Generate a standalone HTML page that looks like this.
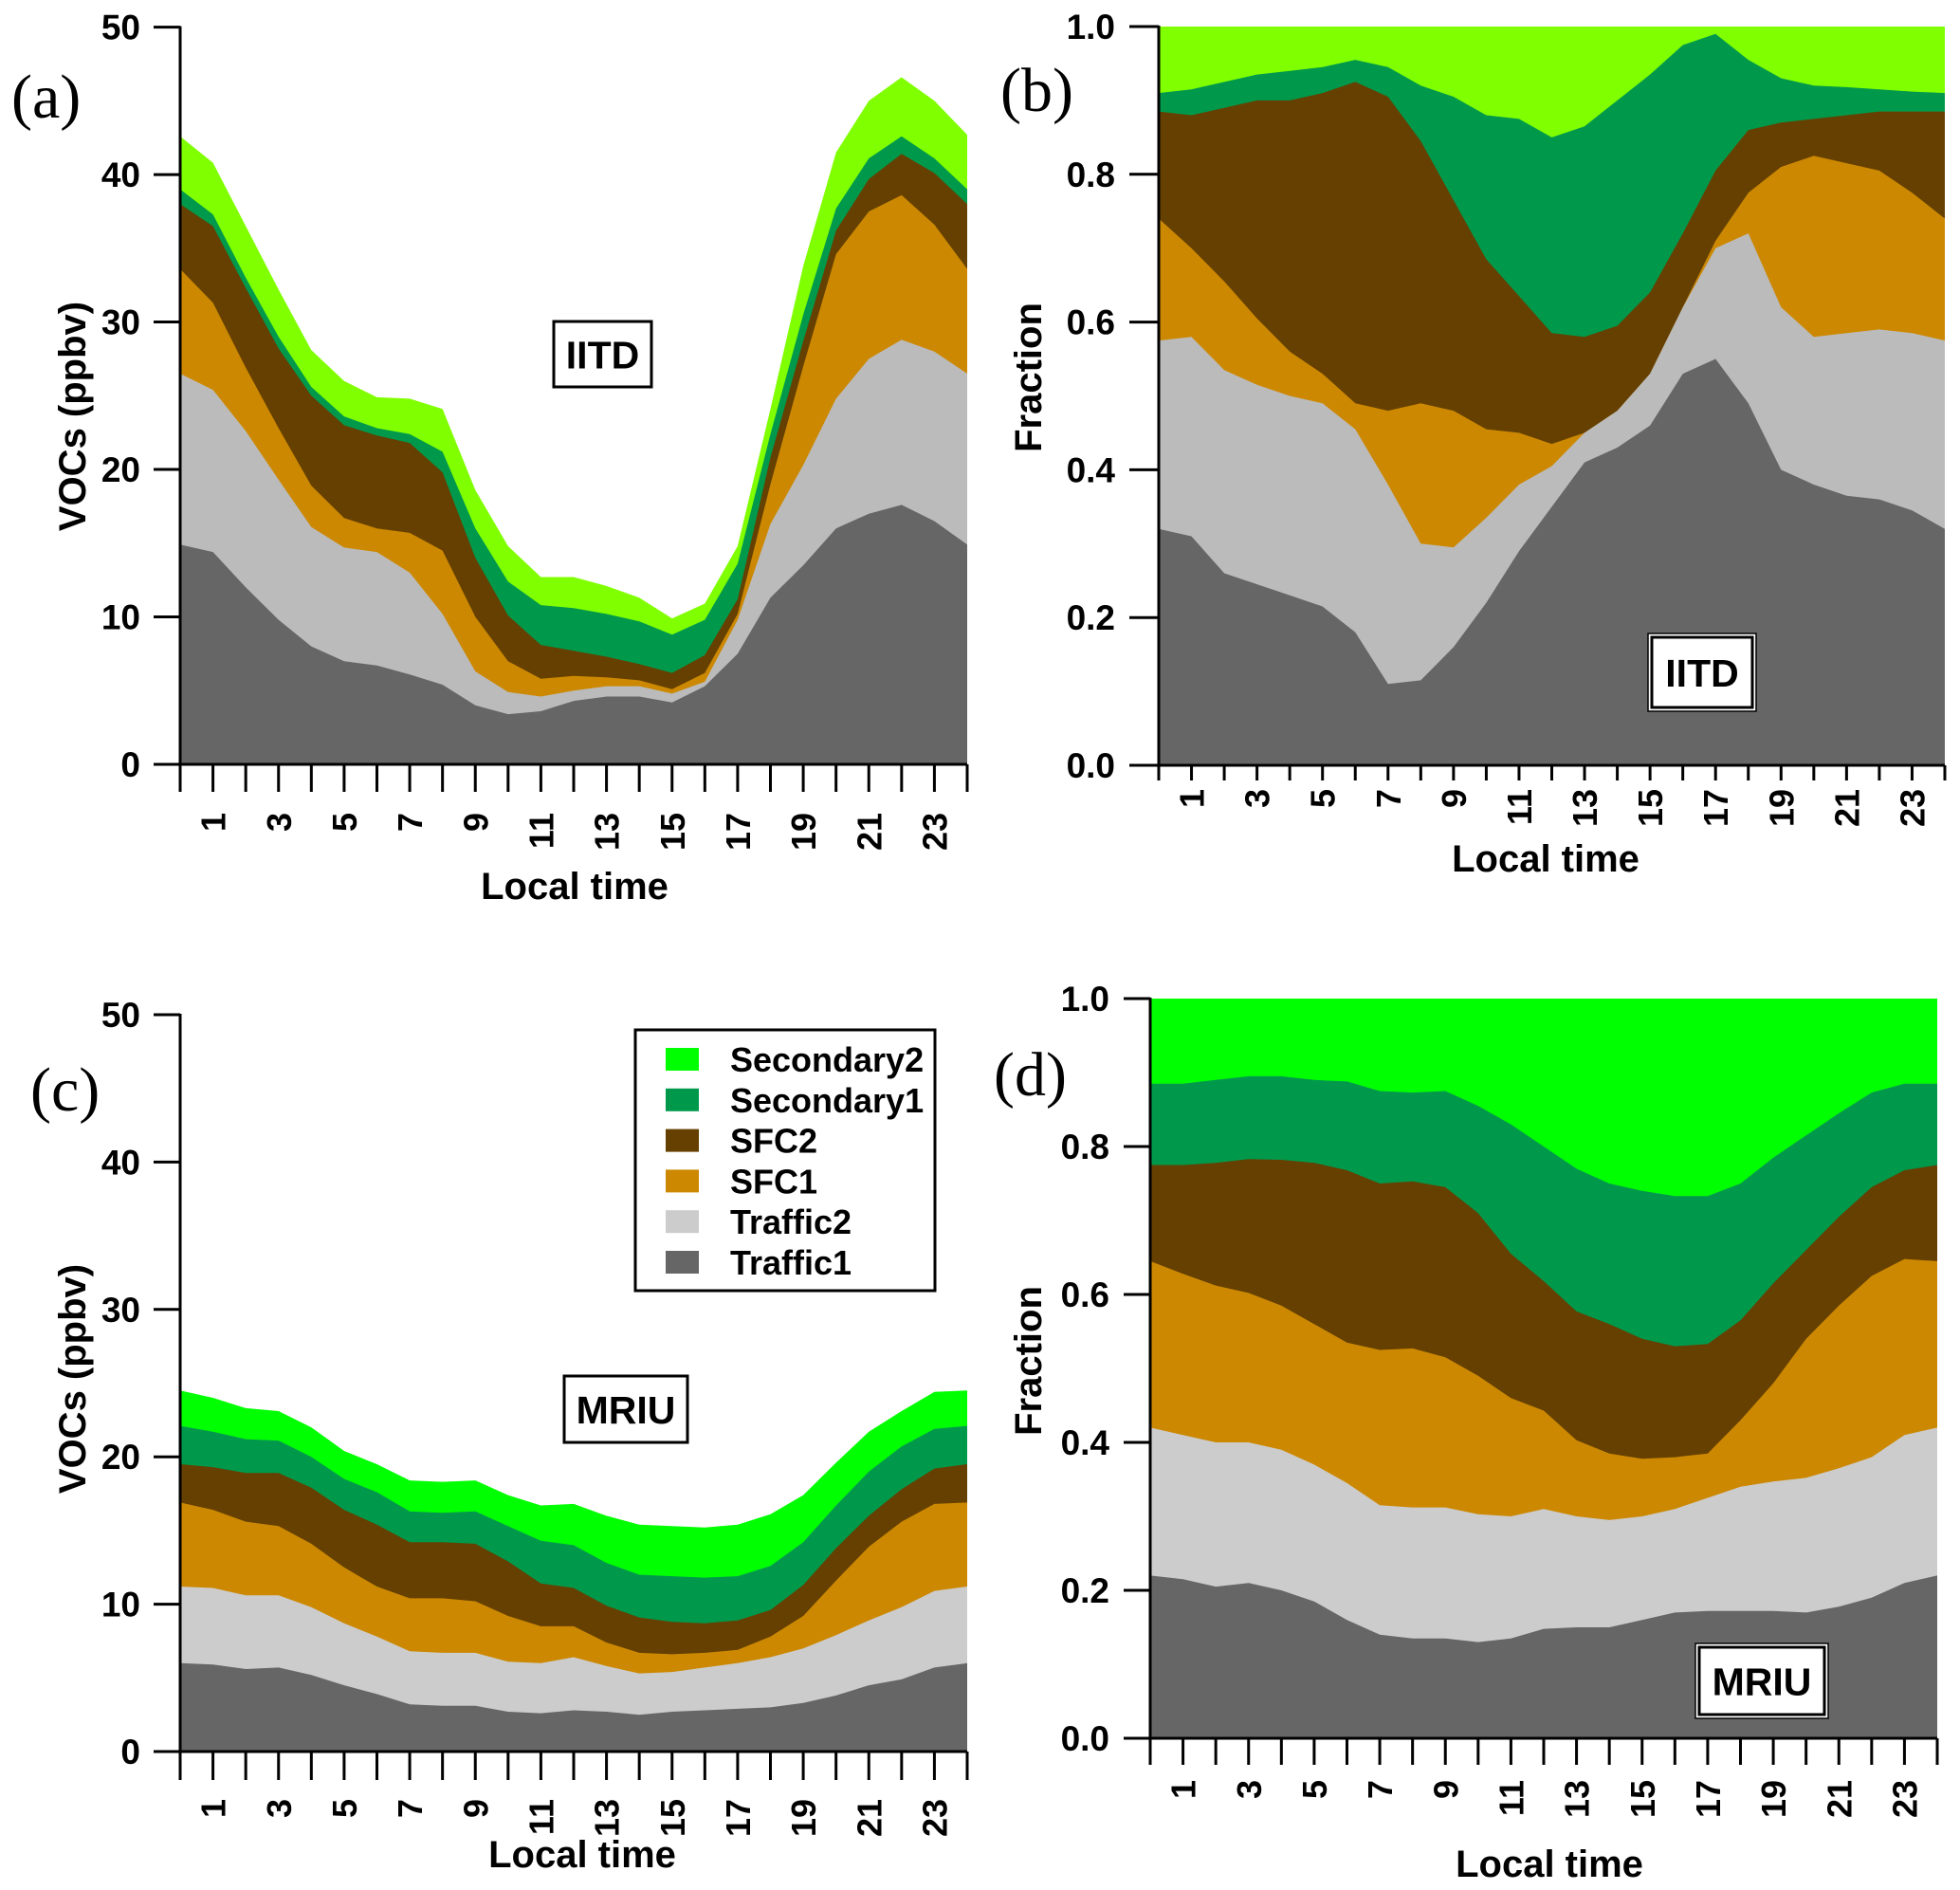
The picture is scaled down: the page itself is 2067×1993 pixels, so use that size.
<!DOCTYPE html>
<html><head><meta charset="utf-8">
<style>
html,body{margin:0;padding:0;background:#fff;}
svg{display:block;}
text{font-family:"Liberation Sans",Arial,sans-serif;font-weight:bold;fill:#000;}
.panel-letter{font-family:"Liberation Serif",serif;font-weight:normal;}
</style></head>
<body>
<svg id="fig" width="2067" height="1993" viewBox="0 0 2067 1993" xmlns="http://www.w3.org/2000/svg"></svg>
<script>
// ---- data ----
const hours = [0,1,2,3,4,5,6,7,8,9,10,11,12,13,14,15,16,17,18,19,20,21,22,23,24];
const seriesNames = ["Traffic1","Traffic2","SFC1","SFC2","Secondary1","Secondary2"];
const xTickLabels = ["1","3","5","7","9","11","13","15","17","19","21","23"];
const concTicks = [0,10,20,30,40,50];
const fracTicks = [0,0.2,0.4,0.6,0.8,1.0];

// Panel (a) IITD concentrations: cumulative top of each layer (ppbv)
const aTraffic1 = [14.9,14.4,12,9.8,8,7,6.7,6.1,5.4,4,3.4,3.6,4.3,4.6,4.6,4.2,5.3,7.5,11.3,13.5,16,17,17.6,16.5,14.9];
const aTraffic2 = [26.5,25.4,22.6,19.3,16.1,14.7,14.4,13,10.2,6.3,4.9,4.6,5,5.3,5.3,4.8,5.6,9.8,16.3,20.3,24.8,27.5,28.8,28,26.5];
const aSFC1 = [33.6,31.3,26.9,22.8,18.9,16.7,16,15.7,14.5,10,7,5.8,6,5.9,5.7,5.1,6.2,10.2,19,27,34.6,37.5,38.6,36.6,33.6];
const aSFC2 = [38,36.5,32.3,28.2,25,23,22.3,21.8,19.8,14,10.1,8.1,7.7,7.3,6.8,6.2,7.4,11.2,20.8,28.7,36.2,39.7,41.4,40.1,38];
const aSec1 = [39,37.3,33,29,25.6,23.6,22.8,22.4,21.2,16,12.4,10.8,10.6,10.2,9.7,8.8,9.8,13.6,22.4,30.5,37.7,41.1,42.6,41.1,39];
const aSec2 = [42.6,40.8,36.5,32.2,28.1,26,24.9,24.8,24.1,18.6,14.8,12.7,12.7,12.1,11.3,9.9,10.9,14.8,24.1,33.8,41.5,45,46.6,45,42.7];

// Panel (b) IITD fractions: cumulative top
const bTraffic1 = [.32,.31,.26,.245,.23,.215,.18,.11,.115,.16,.22,.29,.35,.41,.43,.46,.53,.55,.49,.40,.38,.365,.36,.345,.32];
const bTraffic2 = [.575,.58,.535,.515,.50,.49,.455,.38,.30,.295,.335,.38,.405,.45,.48,.53,.62,.70,.72,.62,.58,.585,.59,.585,.575];
const bSFC1 = [.74,.70,.655,.605,.56,.53,.49,.48,.49,.48,.455,.45,.435,.45,.48,.53,.62,.71,.775,.81,.825,.815,.805,.775,.74];
const bSFC2 = [.885,.88,.89,.90,.90,.91,.925,.905,.845,.765,.685,.635,.585,.58,.595,.64,.72,.805,.86,.87,.875,.88,.885,.885,.885];
const bSec1 = [.91,.915,.925,.935,.94,.945,.955,.945,.92,.905,.88,.875,.85,.865,.90,.935,.975,.99,.955,.93,.92,.918,.915,.912,.91];
const bSec2 = [1,1,1,1,1,1,1,1,1,1,1,1,1,1,1,1,1,1,1,1,1,1,1,1,1];

// Panel (c) MRIU concentrations: cumulative top
const cTraffic1 = [6,5.9,5.6,5.7,5.2,4.5,3.9,3.2,3.1,3.1,2.7,2.6,2.8,2.7,2.5,2.7,2.8,2.9,3,3.3,3.8,4.5,4.9,5.7,6];
const cTraffic2 = [11.2,11.1,10.6,10.6,9.8,8.7,7.8,6.8,6.7,6.7,6.1,6,6.4,5.8,5.3,5.4,5.7,6,6.4,7,7.9,8.9,9.8,10.9,11.2];
const cSFC1 = [16.9,16.4,15.6,15.3,14.1,12.5,11.2,10.4,10.4,10.2,9.2,8.5,8.5,7.4,6.7,6.6,6.7,6.9,7.8,9.2,11.6,13.9,15.6,16.8,16.9];
const cSFC2 = [19.5,19.3,18.9,18.9,17.9,16.4,15.4,14.2,14.2,14.1,12.9,11.4,11.1,9.9,9.1,8.8,8.7,8.9,9.6,11.3,13.8,16,17.8,19.2,19.5];
const cSec1 = [22.1,21.7,21.2,21.1,20,18.5,17.6,16.3,16.2,16.3,15.3,14.3,14,12.8,12,11.9,11.8,11.9,12.6,14.2,16.7,19,20.7,21.9,22.1];
const cSec2 = [24.5,24,23.3,23.1,22,20.4,19.5,18.4,18.3,18.4,17.4,16.7,16.8,16,15.4,15.3,15.2,15.4,16.1,17.4,19.6,21.7,23.1,24.4,24.5];

// Panel (d) MRIU fractions: cumulative top
const dTraffic1 = [.22,.215,.205,.21,.20,.185,.16,.14,.135,.135,.13,.135,.148,.15,.15,.16,.17,.172,.172,.172,.17,.178,.19,.21,.22];
const dTraffic2 = [.42,.41,.40,.40,.39,.37,.345,.315,.312,.312,.303,.30,.31,.30,.295,.30,.31,.325,.34,.347,.352,.365,.38,.41,.42];
const dSFC1 = [.645,.628,.612,.602,.585,.56,.535,.525,.527,.515,.49,.46,.443,.403,.385,.378,.38,.385,.43,.48,.54,.585,.625,.648,.645];
const dSFC2 = [.775,.775,.778,.783,.782,.778,.768,.75,.753,.745,.71,.655,.618,.577,.56,.54,.53,.533,.565,.615,.66,.705,.745,.768,.775];
const dSec1 = [.885,.885,.89,.895,.895,.89,.888,.875,.873,.875,.855,.83,.80,.77,.75,.74,.733,.733,.75,.785,.815,.845,.873,.885,.885];
const dSec2 = [1,1,1,1,1,1,1,1,1,1,1,1,1,1,1,1,1,1,1,1,1,1,1,1,1];

const NS = "http://www.w3.org/2000/svg";
const svg = document.getElementById("fig");
function mk(tag, attrs, parent){
  const e = document.createElementNS(NS, tag);
  for (const k in attrs) e.setAttribute(k, attrs[k]);
  (parent||svg).appendChild(e);
  return e;
}

function drawPanel(p){
  const g = mk("g", {});
  
  
  const xs = h => p.x0 + (p.x1 - p.x0) * h / 24;
  const ys = v => p.y0 - (p.y0 - p.yTop) * v / p.vmax;
  // stacked areas
  for (let s = p.layers.length - 1; s >= 0; s--) {
    const top = p.layers[s];
    let d = "M" + xs(hours[0]) + "," + ys(0);
    for (let i = 0; i < hours.length; i++) d += " L" + xs(hours[i]).toFixed(1) + "," + ys(top[i]).toFixed(1);
    d += " L" + xs(hours[hours.length-1]) + "," + ys(0) + " Z";
    const path = mk("path", {d: d, fill: p.colors[s]}, g);
    
    
  }
  // axes
  const ax = mk("path", {d: "M"+p.x0+","+(p.yTop-1)+" L"+p.x0+","+p.y0+" L"+p.x1+","+p.y0, stroke:"#000","stroke-width":3, fill:"none"}, g);
  
  
  // y ticks
  p.yticks.forEach(v => {
    const y = ys(v);
    const t = mk("line", {x1:p.ytickX, x2:p.x0, y1:y, y2:y, stroke:"#000","stroke-width":3}, g);
    
    
    const lb = mk("text", {x:p.ylabX, y:y+13, "text-anchor":"end","font-size":37}, g);
    lb.textContent = p.fmt(v);
    
    
  });
  // x ticks
  hours.forEach(h => {
    const x = xs(h);
    const t = mk("line", {x1:x, x2:x, y1:p.y0, y2:p.y0+p.tickLen, stroke:"#000","stroke-width":3}, g);
    
    
  });
  xTickLabels.forEach(l => {
    const x = xs(+l);
    const lb = mk("text", {x:0, y:0, "text-anchor":"end","font-size":36, transform:"translate("+(x+13)+","+p.xlabTop+") rotate(-90)"}, g);
    lb.textContent = l;
    
    
  });
  const xt = mk("text", {x:p.xTitleX, y:p.xTitleY, "text-anchor":"middle","font-size":40}, g);
  xt.textContent = "Local time";
  
  
  const yt = mk("text", {x:0, y:0, "text-anchor":"middle","font-size":40, transform:"translate("+(p.yTitleX+14)+","+p.yTitleY+") rotate(-90)"}, g);
  yt.textContent = p.yTitle;
  
  
  const letter = mk("text", {x:p.letterX, y:p.letterY, "font-size":66, "class":"panel-letter"}, g);
  letter.textContent = "(" + p.id + ")";
  
  
  // site box
  const b = p.box;
  if (p.double) {
    const ob = mk("rect", {x:b[0]-4, y:b[1]-4, width:b[2]-b[0]+8, height:b[3]-b[1]+8, fill:"#fff", stroke:"#000","stroke-width":1.5}, g);
    
    
  }
  const rb = mk("rect", {x:b[0], y:b[1], width:b[2]-b[0], height:b[3]-b[1], fill:"#fff", stroke:"#000","stroke-width":3}, g);
  
  
  const st = mk("text", {x:(b[0]+b[2])/2, y:(b[1]+b[3])/2+15, "text-anchor":"middle","font-size":41}, g);
  st.textContent = p.site;
  
  
}

const colAB = ["#666666","#bbbbbb","#cc8800","#654000","#00994c","#80ff00"];
const colCD = ["#666666","#cccccc","#cc8800","#654000","#00994c","#00ff00"];
const fmtInt = v => String(v);
const fmtFrac = v => v.toFixed(1);

drawPanel({id:"a", x0:190, x1:1020, y0:806, yTop:28.6, vmax:50, layers:[aTraffic1,aTraffic2,aSFC1,aSFC2,aSec1,aSec2], colors:colAB,
  yticks:concTicks, fmt:fmtInt, ytickX:162, ylabX:148, tickLen:29, xlabTop:857, xTitleX:606, xTitleY:948,
  yTitle:"VOCs (ppbv)", yTitleX:76, yTitleY:439, letterX:12, letterY:124, box:[584,339,687,408], site:"IITD", double:false});
drawPanel({id:"b", x0:1222, x1:2051, y0:807, yTop:28, vmax:1, layers:[bTraffic1,bTraffic2,bSFC1,bSFC2,bSec1,bSec2], colors:colAB,
  yticks:fracTicks, fmt:fmtFrac, ytickX:1191, ylabX:1176, tickLen:16, xlabTop:832, xTitleX:1630, xTitleY:919,
  yTitle:"Fraction", yTitleX:1084, yTitleY:398, letterX:1055, letterY:117, box:[1742,672,1848,746], site:"IITD", double:true});
drawPanel({id:"c", x0:190, x1:1020, y0:1847, yTop:1070, vmax:50, layers:[cTraffic1,cTraffic2,cSFC1,cSFC2,cSec1,cSec2], colors:colCD,
  yticks:concTicks, fmt:fmtInt, ytickX:162, ylabX:148, tickLen:30, xlabTop:1897, xTitleX:614, xTitleY:1969,
  yTitle:"VOCs (ppbv)", yTitleX:76, yTitleY:1454, letterX:32, letterY:1171, box:[595,1451,725,1521], site:"MRIU", double:false});
drawPanel({id:"d", x0:1213, x1:2043, y0:1833, yTop:1053, vmax:1, layers:[dTraffic1,dTraffic2,dSFC1,dSFC2,dSec1,dSec2], colors:colCD,
  yticks:fracTicks, fmt:fmtFrac, ytickX:1185, ylabX:1170, tickLen:28, xlabTop:1877, xTitleX:1634, xTitleY:1979,
  yTitle:"Fraction", yTitleX:1084, yTitleY:1435, letterX:1048, letterY:1155, box:[1792,1737,1924,1808], site:"MRIU", double:true});

// legend (panel c)
const lg = mk("g", {});


const lbox = mk("rect", {x:670, y:1086, width:316, height:275, fill:"#fff", stroke:"#000", "stroke-width":3}, lg);


const legendOrder = [5,4,3,2,1,0];
legendOrder.forEach((s, i) => {
  const cy = 1117 + i * 42.8;
  const sw = mk("rect", {x:702, y:cy-12, width:35, height:24, fill:colCD[s]}, lg);
  
  
  const tx = mk("text", {x:770, y:cy+13, "font-size":36}, lg);
  tx.textContent = seriesNames[s];
  
  
});
</script>
</body></html>
